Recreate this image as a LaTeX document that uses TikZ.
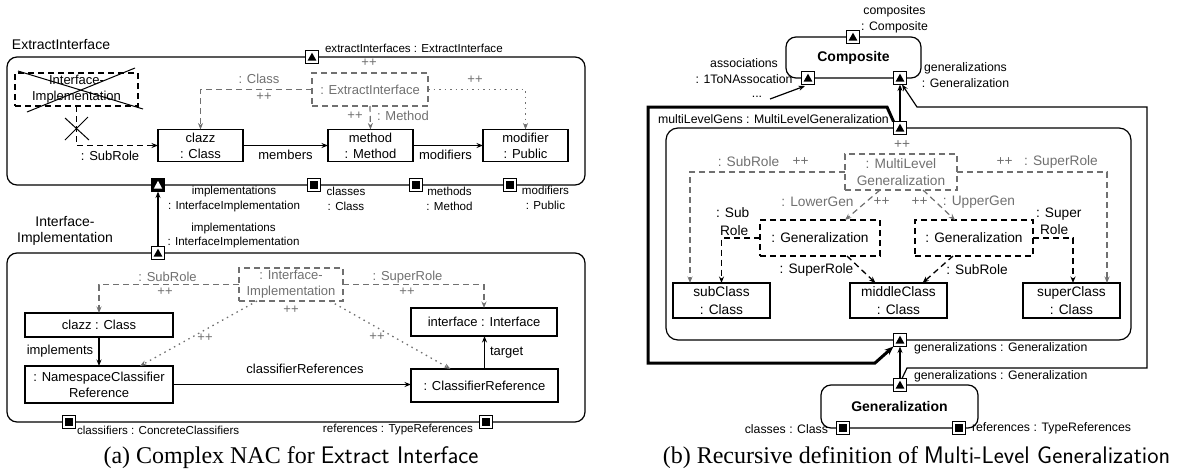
\documentclass[tikz,border=0pt]{standalone}
\usepackage{fontspec}
\setmainfont{Liberation Sans}
\newfontfamily\capserif{Liberation Serif}
\usetikzlibrary{arrows.meta}
\definecolor{gr}{RGB}{112,112,112}
\newcommand\myfA{\fontsize{13}{16}\selectfont}
\newcommand\myfB{\fontsize{13.7}{17.5}\selectfont}
\newcommand\myfpA{\fontsize{11.6}{14.5}\selectfont}
\newcommand\myfpB{\fontsize{12.3}{16}\selectfont}
\newcommand\myft{\fontsize{14}{16.5}\selectfont}
\newcommand\myfcap{\fontsize{24}{28}\selectfont}
\begin{document}
\begin{tikzpicture}[x=1pt,y=-1pt,
 every node/.style={inner sep=0pt, outer sep=0pt},
 objA/.style={draw, line width=1.2pt, align=center, font=\myfA},
 objB/.style={draw, line width=1.2pt, align=center, font=\myfB},
 gboxA/.style={draw=gr, text=gr, line width=1.2pt, dash pattern=on 6pt off 4pt, align=center, font=\myfA},
 gboxB/.style={gboxA, font=\myfB},
 bboxA/.style={draw, line width=1.3pt, dash pattern=on 6pt off 4pt, align=center, font=\myfA},
 bboxB/.style={bboxA, font=\myfB},
 cont/.style={draw, line width=1.2pt, rounded corners=10pt},
 lblA/.style={font=\myfpA, align=center},
 lblB/.style={font=\myfpB, align=center},
 txtA/.style={font=\myfA, align=center},
 txtB/.style={font=\myfB, align=center},
 glblA/.style={font=\myfA, text=gr, align=center},
 glblB/.style={font=\myfB, text=gr, align=center},
 ttl/.style={font=\myft, align=center},
 tport/.style={draw, fill=white, line width=1.2pt, minimum size=13pt,
   path picture={\fill[black] ([shift={(-4.4pt,-3.6pt)}]path picture bounding box.center) -- ([shift={(4.4pt,-3.6pt)}]path picture bounding box.center) -- ([shift={(0pt,4.3pt)}]path picture bounding box.center) -- cycle;}},
 iport/.style={draw, fill=black, line width=1.2pt, minimum size=13pt,
   path picture={\fill[white] ([shift={(-4.2pt,-3.6pt)}]path picture bounding box.center) -- ([shift={(4.2pt,-3.6pt)}]path picture bounding box.center) -- ([shift={(0pt,4.2pt)}]path picture bounding box.center) -- cycle;}},
 sport/.style={draw, fill=white, line width=1.4pt, minimum size=13.5pt,
   path picture={\fill[black] ([shift={(-3.8pt,-3.8pt)}]path picture bounding box.center) rectangle ([shift={(3.8pt,3.8pt)}]path picture bounding box.center);}},
 tipk/.tip={Stealth[length=6.5pt,width=5pt]},
 arr/.style={line width=1.2pt, -tipk},
 garr/.style={draw=gr, line width=1.2pt, dash pattern=on 6pt off 4pt, -tipk},
 gdot/.style={draw=gr, line width=1.3pt, dash pattern=on 1.5pt off 4pt, -tipk},
 barr/.style={line width=1.3pt, dash pattern=on 6pt off 4pt, -tipk},
 thk/.style={line width=3pt, -{Stealth[length=9pt,width=7pt]}}
]
\useasboundingbox (0,0) rectangle (1189,474);

% ================= Panel (a) =================
\node[cont, minimum width=578pt, minimum height=128pt] (EI) at (296,121) {};
\node[ttl, anchor=west] (EIt) at (12,45) {ExtractInterface};

\node[bboxA, minimum width=123pt, minimum height=33pt] (IIx) at (76.5,89.5) {Interface-\\Implementation};
\draw[line width=1pt] (18,71) -- (143,109);
\draw[line width=1pt] (27,112) -- (135,68);

\node[objA, minimum width=85pt, minimum height=32pt] (clazzA) at (200.5,145.5) {clazz\\: Class};
\node[objA, minimum width=85pt, minimum height=32pt] (methodA) at (370.5,145.5) {method\\: Method};
\node[objA, minimum width=85pt, minimum height=32pt] (modA) at (525.5,145.5) {modifier\\: Public};

\draw[barr] (IIx.south) |- (clazzA.west);
\draw[line width=1pt] (65,118) -- (89,140);
\draw[line width=1pt] (65,140) -- (88,117);
\node[txtA] (lsubA) at (110,156) {: SubRole};

\draw[arr] (clazzA.east) -- (methodA.west);
\node[txtA] (lmem) at (285.5,155) {members};
\draw[arr] (methodA.east) -- (modA.west);
\node[txtA] (lmods) at (445.5,155) {modifiers};

\node[gboxA, minimum width=116pt, minimum height=33pt] (EIg) at (370,89.5) {: ExtractInterface};
\node[glblA] (pp1) at (369,63) {++};
\draw[garr] (EIg.west) -| (clazzA.north);
\node[glblA] (lcl) at (259,79) {: Class};
\node[glblA] (pp2) at (264,97) {++};
\draw[garr] (EIg.south) -- (methodA.north);
\node[glblA] (pp3) at (355,116) {++};
\node[glblA, anchor=west] (lme) at (377,116) {: Method};
\draw[gdot] (EIg.east) -| (modA.north);
\node[glblA] (pp4) at (475,80) {++};

\node[tport] (EIp0) at (312,57) {};
\node[lblA, anchor=west] (lEIp0) at (325,48) {extractInterfaces : ExtractInterface};
\node[iport] (EIp1) at (158,185) {};
\node[sport] (EIp2) at (314,185) {};
\node[sport] (EIp3) at (416,185) {};
\node[sport] (EIp4) at (510,185) {};
\node[lblA] (lEIp1) at (234,199) {implementations\\: InterfaceImplementation};
\node[lblA] (lEIp2) at (346,199) {classes\\: Class};
\node[lblA] (lEIp3) at (449.5,199) {methods\\: Method};
\node[lblA] (lEIp4) at (545.5,198) {modifiers\\: Public};

% second container
\node[cont, minimum width=578pt, minimum height=169pt] (II) at (296,337.5) {};
\node[ttl] (IIt) at (65,231) {Interface-\\Implementation};
\node[tport] (IIp0) at (158,253) {};
\draw[arr] (IIp0.north) -- (EIp1.south);
\node[lblA] (lIIp0) at (233.5,235.5) {implementations\\: InterfaceImplementation};

\node[gboxA, minimum width=104pt, minimum height=33pt] (IIg) at (291,284.5) {: Interface-\\Implementation};
\node[glblA] (pp5) at (291,310) {++};
\node[objA, minimum width=148pt, minimum height=24pt] (clazzB) at (99,325) {clazz : Class};
\node[objA, minimum width=146pt, minimum height=28pt] (ifaceB) at (484,322) {interface : Interface};
\node[objA, minimum width=148pt, minimum height=37pt] (nscB) at (99,384.5) {: NamespaceClassifier\\Reference};
\node[objA, minimum width=147pt, minimum height=33pt] (crefB) at (484.5,385.5) {: ClassifierReference};

\draw[garr] (IIg.west) -| (clazzB.north);
\node[glblA] (lsubB) at (167.5,277) {: SubRole};
\node[glblA] (pp6) at (165,292) {++};
\draw[garr] (IIg.east) -| (ifaceB.north);
\node[glblA] (lsupB) at (407.5,277) {: SuperRole};
\node[glblA] (pp7) at (407,292) {++};

\draw[arr] (clazzB.south) -- (nscB.north);
\node[txtA] (limpl) at (60,351) {implements};
\draw[arr] (nscB.east) -- (nscB.east -| crefB.west);
\node[txtA] (lcref) at (305,369) {classifierReferences};
\draw[arr] (crefB.north) -- (crefB.north |- ifaceB.south);
\node[txtA, anchor=west] (ltarget) at (490,353) {target};

\draw[gdot] ([xshift=-34pt]IIg.south) -- ([xshift=41pt]nscB.north);
\node[glblA] (pp8) at (205,338) {++};
\draw[gdot] ([xshift=39pt]IIg.south) -- ([xshift=-34pt]crefB.north);
\node[glblA] (pp9) at (377,337) {++};

\node[sport] (IIp1) at (69,422) {};
\node[sport] (IIp2) at (486,422) {};
\node[lblA, anchor=west] (lIIp1) at (77,430) {classifiers : ConcreteClassifiers};
\node[lblA, anchor=east] (lIIp2) at (473,430) {references : TypeReferences};

\node[font=\capserif\myfcap] (capA) at (291,458) {(a) Complex NAC for {\sffamily Extract Interface}};

% ================= Panel (b) =================
\node[cont, minimum width=135pt, minimum height=41pt, font=\myft\bfseries] (CP) at (853.5,57.5) {Composite};
\node[tport] (CPt) at (853,37) {};
\node[tport] (CPl) at (808,78) {};
\node[tport] (CPr) at (900,78) {};
\node[lblB] (lCPt) at (894.5,19.5) {composites\\: Composite};
\node[lblB] (lCPl) at (744,71.5) {associations\\: 1ToNAssocation};
\node[lblB] (lCPr) at (965.5,75) {generalizations\\: Generalization};
\node[lblB] (dots) at (757,97) {...};
\coordinate (dotsend) at (770,99);
\draw[arr] (dotsend) -- ([shift={(-3pt,-1.5pt)}]CPl.south);

\node[cont, minimum width=465pt, minimum height=212pt, rounded corners=12pt] (IN) at (898.5,234) {};
\node[tport] (MLt) at (900,128) {};
\node[tport] (MLb) at (900,340) {};
\draw[thk] (MLt.north west) -- (887,107) -- (648,107) -- (648,363) -- (875,363) -- (MLb.south west);
\draw[arr] (MLt.north) -- (CPr.south);
\node[lblB, anchor=west] (lMLt) at (658,119) {multiLevelGens : MultiLevelGeneralization};
\node[lblB, anchor=west] (lMLb) at (914,348) {generalizations : Generalization};

\node[gboxB, minimum width=112pt, minimum height=36pt] (MLG) at (901,172) {: MultiLevel\\Generalization};
\node[glblB] (pp10) at (902,145) {++};
\node[bboxB, minimum width=120pt, minimum height=36pt] (genL) at (820,238) {: Generalization};
\node[bboxB, minimum width=118pt, minimum height=36pt] (genR) at (974,238) {: Generalization};
\node[objB, minimum width=97pt, minimum height=35pt] (subC) at (721.5,300.5) {subClass\\: Class};
\node[objB, minimum width=97pt, minimum height=35pt] (midC) at (898.5,300.5) {middleClass\\: Class};
\node[objB, minimum width=97pt, minimum height=35pt] (supC) at (1071.5,300.5) {superClass\\: Class};

\draw[garr] (MLG.west) -| ([xshift=-31.5pt]subC.north);
\node[glblB] (lsubG) at (748.5,162) {: SubRole};
\node[glblB] (pp11) at (800.5,162) {++};
\draw[garr] (MLG.east) -| ([xshift=35.5pt]supC.north);
\node[glblB] (pp12) at (1004.5,162) {++};
\node[glblB] (lsupG) at (1061,162) {: SuperRole};
\draw[garr] ([xshift=-21pt]MLG.south) -- ([xshift=25pt]genL.north);
\node[glblB] (llow) at (817.5,202) {: LowerGen};
\node[glblB] (pp13) at (881.5,202) {++};
\draw[garr] ([xshift=22pt]MLG.south) -- ([xshift=-19pt]genR.north);
\node[glblB] (pp14) at (919.5,202) {++};
\node[glblB] (lupp) at (979,202) {: UpperGen};

\draw[barr] (genL.west) -| (subC.north);
\node[txtB, align=left, anchor=west] (lsubR) at (716,221.5) {: Sub\\\hspace*{4pt}Role};
\draw[barr] (genR.east) -| ([xshift=1.5pt]supC.north);
\node[txtB, align=left, anchor=west] (lsupR) at (1036,221.5) {: Super\\\hspace*{4pt}Role};
\draw[barr] ([xshift=27pt]genL.south) -- ([xshift=-23pt]midC.north);
\node[txtB] (lsupM) at (816.5,270) {: SuperRole};
\draw[barr] ([xshift=-21pt]genR.south) -- ([xshift=24pt]midC.north);
\node[txtB] (lsubM) at (977,270) {: SubRole};

\node[cont, minimum width=157pt, minimum height=43pt, font=\myft\bfseries] (GE) at (899.5,406.5) {Generalization};
\node[tport] (GEt) at (900,385) {};
\node[sport] (GEl) at (843,428) {};
\node[sport] (GEr) at (959,428) {};
\draw[arr] (GEt.north) -- (MLb.south);
\draw[arr] ([xshift=2pt]GEt.north) -- (907,368) -- (1147,368) -- (1147,107) -- (917,107) -- ([xshift=2pt]CPr.south);
\node[lblB, anchor=west] (lGEt) at (914,376) {generalizations : Generalization};
\node[lblB, anchor=east] (lGEl) at (828,429) {classes : Class};
\node[lblB, anchor=west] (lGEr) at (972,428) {references : TypeReferences};

\node[font=\capserif\myfcap] (capB) at (916.5,458) {(b) Recursive definition of {\sffamily Multi-Level Generalization}};
\end{tikzpicture}
\end{document}
